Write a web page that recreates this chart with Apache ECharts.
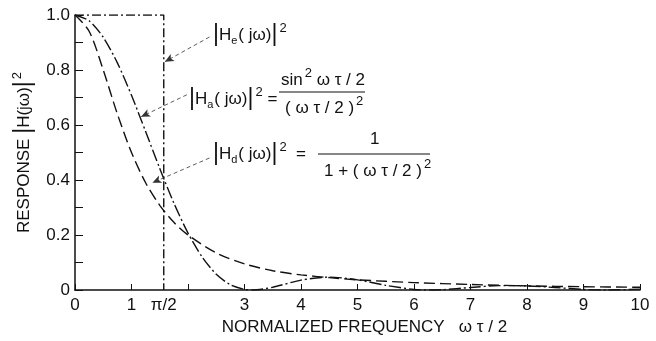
<!DOCTYPE html>
<html>
<head>
<meta charset="utf-8">
<script src="https://cdn.jsdelivr.net/npm/echarts@6/dist/echarts.min.js"></script>
<style>
  html, body { margin: 0; padding: 0; background: #fff; }
  #chart { width: 656px; height: 341px; }
</style>
</head>
<body>
<div id="chart"></div>
<script>
const FONT = 'Liberation Sans';
const INK = '#111';

// ideal response |He|^2
const heX = [0, Math.PI / 2, Math.PI / 2];
const heY = [1, 1, 0];

// |Ha|^2 = sin^2(wt/2)/(wt/2)^2
const haX = [0, 0.25, 0.5, 0.75, 1, 1.25, 1.5, 1.75, 2, 2.25, 2.5, 2.75, 3, 3.14, 3.5, 4, 4.5, 5, 5.5, 6, 6.28, 6.5, 7, 7.5, 8, 8.5, 9, 9.42, 10];
const haY = [1, 0.979, 0.919, 0.826, 0.708, 0.576, 0.442, 0.316, 0.207, 0.12, 0.057, 0.019, 0.002, 0, 0.01, 0.036, 0.047, 0.037, 0.017, 0.002, 0, 0.001, 0.009, 0.016, 0.015, 0.009, 0.002, 0, 0.003];

// |Hd|^2 = 1/(1+(wt/2)^2)
const hdX = [0, 0.25, 0.5, 0.75, 1, 1.25, 1.5, 1.75, 2, 2.5, 3, 3.5, 4, 4.5, 5, 6, 7, 8, 9, 10];
const hdY = [1, 0.941, 0.8, 0.64, 0.5, 0.39, 0.308, 0.246, 0.2, 0.135, 0.095, 0.07, 0.055, 0.045, 0.037, 0.027, 0.02, 0.015, 0.012, 0.01];

// axis ticks and labels
const xTickValues = [0, 1, 2, 3, 4, 5, 6, 7, 8, 9, 10];
const xLabelValues = [0, 1, Math.PI / 2, 3, 4, 5, 6, 7, 8, 9, 10];
const xLabelTexts = ['0', '1', 'π/2', '3', '4', '5', '6', '7', '8', '9', '10'];

// leader lines: [from, to] in data units
const leaders = [
  [[2.38, 0.92], [1.59, 0.83]],
  [[1.98, 0.71], [1.17, 0.63]],
  [[2.38, 0.48], [1.37, 0.39]],
];

const rich = {
  t: { fontSize: 17, lineHeight: 26, verticalAlign: 'middle', fontFamily: FONT, color: INK },
  bar: { fontSize: 23, lineHeight: 26, verticalAlign: 'middle', fontFamily: FONT, color: INK },
  sub: { fontSize: 11, lineHeight: 11, verticalAlign: 'bottom', fontFamily: FONT, color: INK, padding: [0, 1, 2, 0] },
  sup: { fontSize: 13, lineHeight: 13, verticalAlign: 'top', fontFamily: FONT, color: INK, padding: [0, 0, 0, 2] },
};

const pairs = (xs, ys) => xs.map((x, i) => [x, ys[i]]);

const chart = echarts.init(document.getElementById('chart'), null, { renderer: 'canvas' });

const text = (x, y, str) => ({
  type: 'text',
  x, y,
  style: { text: str, rich, verticalAlign: 'middle', fill: INK },
  silent: true,
});

chart.setOption({
  animation: false,
  backgroundColor: '#fff',
  grid: {
    left: 75,
    right: 16,
    top: 15,
    bottom: 51,
  },
  xAxis: {
    type: 'value',
    min: 0,
    max: 10,
    name: 'NORMALIZED FREQUENCY   ω τ / 2',
    nameLocation: 'middle',
    nameGap: 28,
    nameTextStyle: { fontFamily: FONT, fontSize: 17, color: INK, verticalAlign: 'top', padding: [0, 0, 0, 14] },
    axisLine: { lineStyle: { color: INK, width: 1.5 } },
    axisTick: { inside: true, length: 6, customValues: xTickValues, lineStyle: { color: INK } },
    axisLabel: {
      customValues: xLabelValues,
      formatter: (v) => {
        const i = xLabelValues.findIndex((c) => Math.abs(c - v) < 1e-6);
        return i < 0 ? '' : xLabelTexts[i];
      },
      fontFamily: FONT,
      fontSize: 17,
      color: INK,
      margin: 7,
    },
    splitLine: { show: false },
  },
  yAxis: {
    type: 'value',
    min: 0,
    max: 1,
    interval: 0.2,
    name: 'RESPONSE {bar||}{t|H(jω)}{bar||}{sup|2}',
    nameLocation: 'middle',
    nameRotate: 90,
    nameGap: 38,
    nameTextStyle: { fontFamily: FONT, fontSize: 17, color: INK, rich },
    axisLine: { show: true, lineStyle: { color: INK, width: 1.5 } },
    axisTick: { inside: true, length: 8, lineStyle: { color: INK } },
    minorTick: { show: true, splitNumber: 2, length: 8, lineStyle: { color: INK } },
    axisLabel: {
      formatter: (v) => (v === 0 ? '0' : v.toFixed(1)),
      fontFamily: FONT,
      fontSize: 17,
      color: INK,
      margin: 5,
    },
    splitLine: { show: false },
  },
  series: [
    {
      name: 'He',
      type: 'line',
      data: pairs(heX, heY),
      showSymbol: false,
      lineStyle: { color: INK, width: 1.4, type: [9, 3, 2, 3] },
      markLine: {
        silent: true,
        symbol: ['none', 'arrow'],
        symbolSize: [6, 9],
        label: { show: false },
        lineStyle: { color: '#333', width: 0.8, type: [4, 3] },
        data: leaders.map(([a, b]) => [{ coord: a }, { coord: b }]),
      },
    },
    {
      name: 'Ha',
      type: 'line',
      data: pairs(haX, haY),
      smooth: 0.25,
      showSymbol: false,
      lineStyle: { color: INK, width: 1.4, type: [12, 3, 2, 3] },
    },
    {
      name: 'Hd',
      type: 'line',
      data: pairs(hdX, hdY),
      smooth: 0.3,
      showSymbol: false,
      lineStyle: { color: INK, width: 1.4, type: [11, 5] },
    },
  ],
  graphic: [
    text(213, 35, '{bar||}{t|H}{sub|e}{t|( jω)}{bar||}{sup|2}'),

    text(189, 99, '{bar||}{t|H}{sub|a}{t|( jω)}{bar||}{sup|2}{t| =}'),
    text(281, 80, '{t|sin}{sup|2}{t| ω τ / 2}'),
    { type: 'line', shape: { x1: 279, y1: 92, x2: 365, y2: 92 }, style: { stroke: INK, lineWidth: 1 }, silent: true },
    text(285, 108, '{t|( ω τ / 2 )}{sup|2}'),

    text(213, 154, '{bar||}{t|H}{sub|d}{t|( jω)}{bar||}{sup|2}{t|  =}'),
    text(370, 139, '{t|1}'),
    { type: 'line', shape: { x1: 318, y1: 154, x2: 430, y2: 154 }, style: { stroke: INK, lineWidth: 1 }, silent: true },
    text(324, 171, '{t|1 + ( ω τ / 2 )}{sup|2}'),
  ],
});
</script>
</body>
</html>
